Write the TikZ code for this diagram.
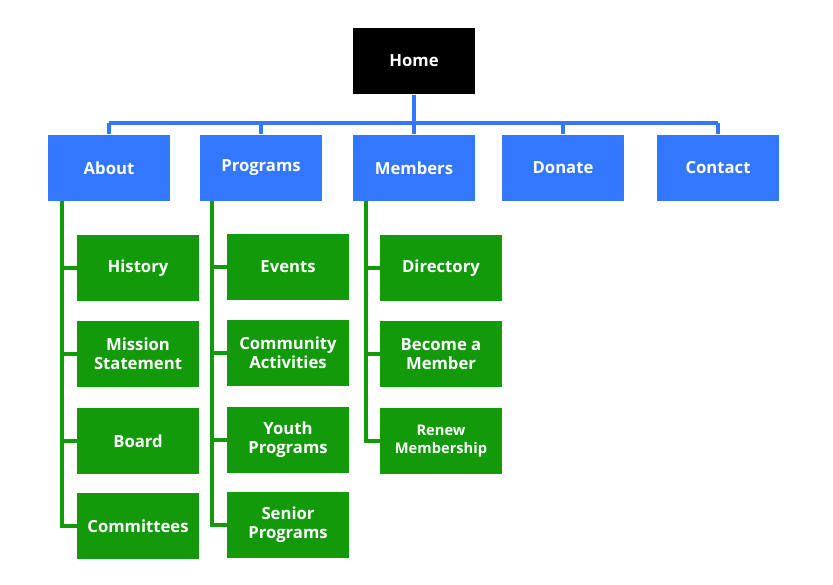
\documentclass[tikz,border=0pt]{standalone}
\usepackage{fontspec}
\setmainfont{Open Sans}
\definecolor{topblue}{RGB}{51,119,255}
\definecolor{pagegreen}{RGB}{18,154,11}
\tikzset{
  page/.style={minimum width=91.5pt,minimum height=50pt,inner sep=2pt,align=center,
    text=white,font=\fontsize{12.5}{14}\selectfont\bfseries},
  home/.style={page,fill=black},
  top/.style={page,fill=topblue},
  sub/.style={page,fill=pagegreen},
  bluelink/.style={draw=topblue,line width=3pt},
  greenlink/.style={draw=pagegreen,line width=3pt},
}
\begin{document}
\begin{tikzpicture}[x=0.75pt,y=-0.75pt]
\useasboundingbox (0,0) rectangle (833,585);
\node[home] (home) at (414,61) {Home};
\coordinate (bar) at (0,123);
% top level
\node[top] (about) at (109,168) {About};
\node[top] (programs) at (261,168) {Programs};
\node[top] (members) at (414,168) {Members};
\node[top] (donate) at (563,168) {Donate};
\node[top] (contact) at (718,168) {Contact};
\draw[bluelink] (home.south) -- (home.south |- bar);
\draw[bluelink] (about.north |- bar) -- (contact.north |- bar);
\foreach \n in {about,programs,members,donate,contact}
  \draw[bluelink] (\n.north) -- (\n.north |- bar);
% about
\coordinate (aboutrail) at (62,201);
\node[sub] (history) at (138,268) {History};
\node[sub] (mission) at (138,354) {Mission\\Statement};
\node[sub] (board) at (138,441) {Board};
\node[sub] (committees) at (138,526) {Committees};
% programs
\coordinate (programsrail) at (212,201);
\node[sub] (events) at (288,267) {Events};
\node[sub] (community) at (288,353) {Community\\Activities};
\node[sub] (youth) at (288,440) {Youth\\Programs};
\node[sub] (senior) at (288,525) {Senior\\Programs};
% members
\coordinate (membersrail) at (366,201);
\node[sub] (directory) at (441,268) {Directory};
\node[sub] (become) at (441,354) {Become a\\Member};
\node[sub,font=\fontsize{11}{13}\selectfont\bfseries] (renew) at (441,441) {Renew\\Membership};
\foreach \c in {history,mission,board,committees}
  \draw[greenlink] (aboutrail) |- (\c.west);
\foreach \c in {events,community,youth,senior}
  \draw[greenlink] (programsrail) |- (\c.west);
\foreach \c in {directory,become,renew}
  \draw[greenlink] (membersrail) |- (\c.west);
\end{tikzpicture}
\end{document}
